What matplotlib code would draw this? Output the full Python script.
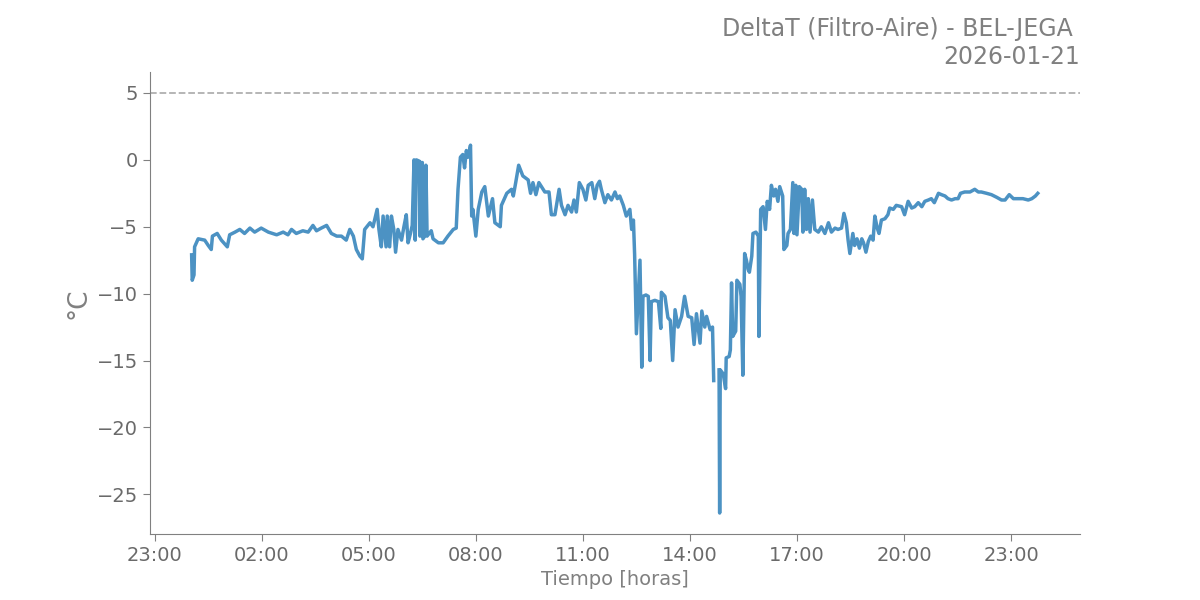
import numpy as np
import pandas as pd
import matplotlib
matplotlib.use("Agg")
import matplotlib.pyplot as plt
import matplotlib.dates as mdates

DAY = "2026-01-21"
TITLE = "DeltaT (Filtro-Aire) - BEL-JEGA \n" + DAY
LIMIT = 5.0

# minutes since midnight, delta T in degC
minutes = [
    2, 3, 6, 7, 13, 24, 30, 35, 37, 45, 52, 62, 66, 75, 83, 91, 100, 108, 119, 131,
    145, 156, 164, 170, 178, 189, 198, 206, 212, 220, 229, 237, 246, 254, 262, 268, 274, 279, 285, 289,
    293, 302, 307, 314, 317, 321, 324, 329, 331, 335, 338, 342, 345, 349, 355, 359, 363, 366, 370, 373,
    376, 378, 380, 385, 386, 387, 390, 391, 394, 396, 398, 405, 408, 417, 425, 433, 442, 447, 450, 454,
    458, 461, 464, 467, 471, 473, 475, 480, 484, 490, 495, 501, 508, 512, 521, 523, 532, 540, 543, 547,
    552, 559, 568, 572, 576, 581, 586, 596, 603, 607, 613, 620, 624, 630, 635, 641, 645, 649, 654, 660,
    665, 669, 675, 680, 684, 688, 691, 697, 702, 708, 714, 718, 722, 728, 733, 739, 742, 745, 747, 750,
    753, 756, 759, 761, 766, 770, 773, 775, 781, 787, 791, 792, 798, 803, 807, 811, 815, 820, 826, 831,
    837, 843, 847, 851, 857, 860, 865, 868, 874, 878, 880, 884, 889, 890, 891, 896, 900, 901, 906, 908,
    910, 912, 917, 919, 924, 926, 929, 932, 935, 938, 940, 944, 946, 951, 955, 956, 959, 963, 967, 970,
    974, 977, 981, 984, 988, 991, 996, 998, 1003, 1005, 1009, 1013, 1015, 1018, 1020, 1024, 1028, 1030, 1033, 1036,
    1039, 1042, 1046, 1050, 1056, 1061, 1067, 1073, 1078, 1084, 1089, 1095, 1099, 1103, 1106, 1109, 1114, 1117, 1121, 1125,
    1129, 1132, 1136, 1140, 1144, 1148, 1151, 1155, 1158, 1162, 1168, 1173, 1176, 1182, 1187, 1196, 1201, 1207, 1213, 1218,
    1224, 1230, 1235, 1241, 1246, 1251, 1258, 1263, 1269, 1274, 1280, 1286, 1291, 1295, 1302, 1311, 1319, 1325, 1330, 1339,
    1347, 1356, 1364, 1370, 1377, 1384, 1392, 1400, 1409, 1415, 1421, 1425,
]
delta_t = [
    -7.1, -9.0, -8.6, -6.5, -5.9, -6.0, -6.4, -6.7, -5.7, -5.5, -6.0, -6.5, -5.6, -5.4, -5.2, -5.5, -5.1, -5.4, -5.1, -5.4,
    -5.6, -5.4, -5.6, -5.2, -5.5, -5.3, -5.4, -4.9, -5.3, -5.1, -4.9, -5.5, -5.7, -5.7, -6.0, -5.2, -5.7, -6.7, -7.2, -7.4,
    -5.2, -4.7, -5.0, -3.7, -5.2, -6.5, -4.2, -6.5, -4.2, -6.5, -4.2, -5.2, -6.9, -5.2, -6.0, -5.0, -4.1, -6.2, -5.5, -4.9,
    0.0, -6.0, 0.0, -0.1, -5.7, -0.2, -0.2, -5.9, -5.7, -0.4, -5.7, -5.3, -5.9, -6.2, -6.2, -5.7, -5.2, -5.1, -2.2, 0.2,
    0.4, -0.6, 0.7, 0.2, 1.1, -4.2, -3.7, -5.7, -3.7, -2.4, -2.0, -4.2, -2.9, -4.7, -5.0, -3.4, -2.5, -2.2, -2.7, -1.7,
    -0.4, -1.2, -1.5, -2.5, -1.7, -2.6, -1.7, -2.4, -2.4, -4.1, -4.1, -2.2, -3.4, -4.1, -3.4, -3.9, -3.0, -3.9, -1.7, -2.2,
    -3.0, -1.9, -1.7, -2.9, -1.9, -1.6, -2.2, -3.2, -2.6, -3.0, -2.4, -2.9, -2.7, -3.4, -4.2, -3.7, -5.2, -4.5, -7.1, -13.0,
    -10.2, -7.5, -15.5, -10.2, -10.1, -10.2, -15.0, -10.6, -10.5, -10.6, -12.6, -9.9, -10.2, -11.8, -12.0, -15.0, -11.2, -12.5, -11.7, -10.2,
    -11.7, -11.8, -13.8, -11.5, -13.7, -11.3, -12.5, -11.7, -12.7, -12.5, -16.5, np.nan, -15.7, -26.4, -15.7, -16.0, -17.1, -14.8, -14.7, -14.2,
    -9.2, -13.2, -12.8, -9.0, -9.3, -10.2, -16.1, -7.0, -7.5, -8.2, -8.4, -7.2, -5.5, -5.4, -5.7, -13.2, -3.7, -3.5, -5.2, -3.1,
    -3.7, -1.9, -2.7, -2.2, -3.1, -2.0, -2.7, -6.7, -6.4, -5.5, -5.2, -1.7, -5.5, -1.9, -5.6, -2.0, -2.2, -5.4, -2.2, -5.2,
    -2.9, -5.4, -3.0, -5.2, -5.4, -5.0, -5.5, -4.7, -5.4, -5.1, -5.2, -5.1, -4.0, -4.7, -6.0, -7.0, -5.5, -6.4, -5.9, -6.6,
    -5.9, -6.2, -6.9, -6.1, -5.7, -6.0, -4.2, -5.1, -5.5, -4.5, -4.4, -4.1, -3.6, -3.7, -3.4, -3.5, -4.1, -3.1, -3.6, -3.5,
    -3.2, -3.5, -3.1, -3.0, -2.9, -3.2, -2.5, -2.6, -2.7, -2.9, -3.0, -2.9, -2.9, -2.5, -2.4, -2.4, -2.2, -2.4, -2.4, -2.5,
    -2.6, -2.8, -3.0, -3.0, -2.6, -2.9, -2.9, -2.9, -3.0, -2.9, -2.7, -2.5,
]

day0 = pd.Timestamp(DAY)
times = day0 + pd.to_timedelta(minutes, unit="min")

fig, ax = plt.subplots(figsize=(12, 6), dpi=100)
ax.plot(times, delta_t, color="tab:blue", alpha=0.8, lw=2.5)
ax.axhline(LIMIT, color="#b0b0b0", ls="--", lw=1.3)

ax.set_xlim(day0 - pd.Timedelta(minutes=68), day0 + pd.Timedelta(minutes=1496))
ax.xaxis.set_major_locator(mdates.HourLocator(byhour=range(2, 24, 3)))
ax.xaxis.set_major_formatter(mdates.DateFormatter("%H:%M"))

grey = "#808080"
ax.set_title(TITLE, loc="right", fontsize=17, color=grey)
ax.set_xlabel("Tiempo [horas]", fontsize=14, color=grey)
ax.set_ylabel("°C", fontsize=19, color=grey)
ax.tick_params(labelsize=14, labelcolor="#6a6a6a", color="#808080", length=5)
for side in ["top", "right"]:
    ax.spines[side].set_visible(False)
for side in ["left", "bottom"]:
    ax.spines[side].set_color("#808080")

fig.savefig("out.png", dpi=100)
